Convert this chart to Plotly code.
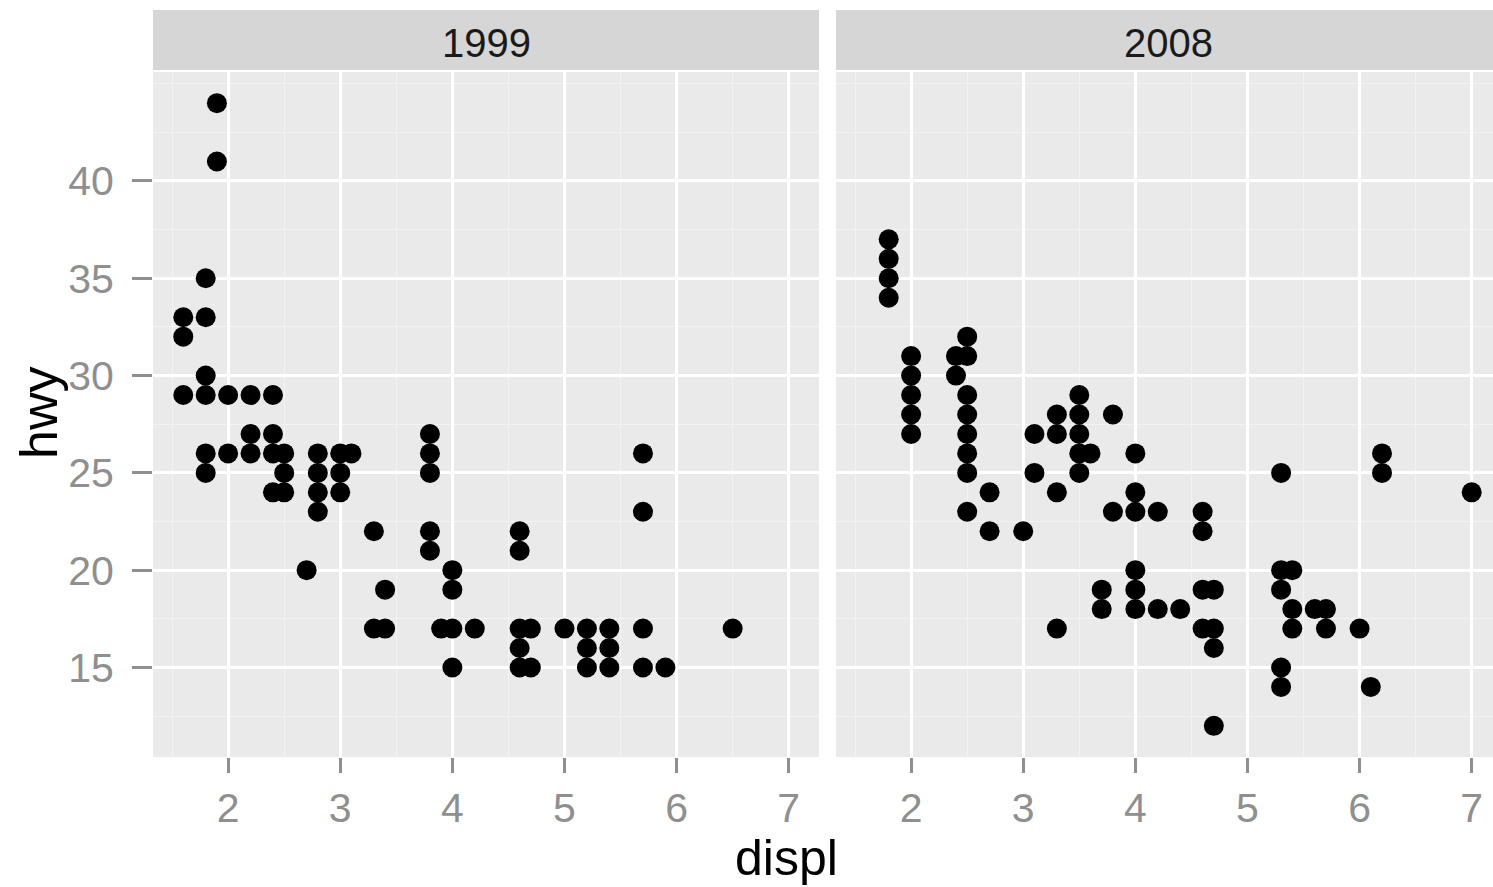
import plotly.graph_objects as go

# ---- data ----
displ_1999 = [1.6, 1.6, 1.6,
              1.8, 1.8, 1.8, 1.8, 1.8, 1.8,
              1.9, 1.9,
              2.0, 2.0,
              2.2, 2.2, 2.2,
              2.4, 2.4, 2.4, 2.4,
              2.5, 2.5, 2.5,
              2.7,
              2.8, 2.8, 2.8, 2.8,
              3.0, 3.0, 3.0,
              3.1,
              3.3, 3.3,
              3.4, 3.4,
              3.8, 3.8, 3.8, 3.8, 3.8,
              3.9,
              4.0, 4.0, 4.0, 4.0,
              4.2,
              4.6, 4.6, 4.6, 4.6, 4.6,
              4.7, 4.7,
              5.0,
              5.2, 5.2, 5.2,
              5.4, 5.4, 5.4,
              5.7, 5.7, 5.7, 5.7,
              5.9,
              6.5]
hwy_1999 = [33, 32, 29,
            35, 33, 30, 29, 26, 25,
            44, 41,
            29, 26,
            29, 27, 26,
            29, 27, 26, 24,
            26, 25, 24,
            20,
            26, 25, 24, 23,
            26, 25, 24,
            26,
            22, 17,
            19, 17,
            27, 26, 25, 22, 21,
            17,
            20, 19, 17, 15,
            17,
            22, 21, 17, 16, 15,
            17, 15,
            17,
            17, 16, 15,
            17, 16, 15,
            26, 23, 17, 15,
            15,
            17]

displ_2008 = [1.8, 1.8, 1.8, 1.8,
              2.0, 2.0, 2.0, 2.0, 2.0,
              2.4, 2.4,
              2.5, 2.5, 2.5, 2.5, 2.5, 2.5, 2.5, 2.5,
              2.7, 2.7,
              3.0,
              3.1, 3.1,
              3.3, 3.3, 3.3, 3.3,
              3.5, 3.5, 3.5, 3.5, 3.5,
              3.6,
              3.7, 3.7,
              3.8, 3.8,
              4.0, 4.0, 4.0, 4.0, 4.0, 4.0,
              4.2, 4.2,
              4.4,
              4.6, 4.6, 4.6, 4.6,
              4.7, 4.7, 4.7, 4.7,
              5.3, 5.3, 5.3, 5.3, 5.3,
              5.4, 5.4, 5.4,
              5.6,
              5.7, 5.7,
              6.0,
              6.1,
              6.2, 6.2,
              7.0]
hwy_2008 = [37, 36, 35, 34,
            31, 30, 29, 28, 27,
            31, 30,
            32, 31, 29, 28, 27, 26, 25, 23,
            24, 22,
            22,
            27, 25,
            28, 27, 24, 17,
            29, 28, 27, 26, 25,
            26,
            19, 18,
            28, 23,
            26, 24, 23, 20, 19, 18,
            23, 18,
            18,
            23, 22, 19, 17,
            19, 17, 16, 12,
            25, 20, 19, 15, 14,
            20, 18, 17,
            18,
            18, 17,
            17,
            14,
            26, 25,
            24]

years = ["1999", "2008"]
x_ticks = [2, 3, 4, 5, 6, 7]
y_ticks = [15, 20, 25, 30, 35, 40]
x_minor = [1.5, 2.5, 3.5, 4.5, 5.5, 6.5]
y_minor = [12.5, 17.5, 22.5, 27.5, 32.5, 37.5, 42.5, 45]

W, H = 1493, 887
ML, MR, MT, MB = 153, 0, 72, 130
plot_w = W - ML - MR
plot_h = H - MT - MB
d1 = [0, (819 - ML) / plot_w]
d2 = [(836 - ML) / plot_w, 1]

FONT = "Liberation Sans, Arial, sans-serif"

fig = go.Figure()
marker = dict(color="black", size=20, line=dict(width=0))
fig.add_trace(go.Scatter(x=displ_1999, y=hwy_1999, mode="markers", marker=marker,
                         xaxis="x", yaxis="y", showlegend=False))
fig.add_trace(go.Scatter(x=displ_2008, y=hwy_2008, mode="markers", marker=marker,
                         xaxis="x2", yaxis="y2", showlegend=False))

tickfont = dict(family=FONT, size=41, color="#8F8F8F")
common_x = dict(tickvals=x_ticks, showgrid=True, gridcolor="white", gridwidth=2.5,
                zeroline=False, ticks="outside", ticklen=15, tickwidth=2.5, tickcolor="#8F8F8F",
                tickfont=tickfont, showline=False, ticklabelstandoff=0,
                minor=dict(tickvals=x_minor, showgrid=True, gridcolor="#F3F3F3", gridwidth=1, ticks=""))
common_y = dict(range=[10.4, 45.6], tickvals=y_ticks, showgrid=True, gridcolor="white",
                gridwidth=2.5, zeroline=False, showline=False,
                minor=dict(tickvals=y_minor, showgrid=True, gridcolor="#F3F3F3", gridwidth=1, ticks=""))

fig.update_layout(
    width=W, height=H,
    margin=dict(l=ML, r=MR, t=MT, b=MB),
    paper_bgcolor="white", plot_bgcolor="#EAEAEA",
    xaxis=dict(domain=d1, range=[1.33, 7.27], anchor="y", **common_x),
    xaxis2=dict(domain=d2, range=[1.33, 7.19], anchor="y2", **common_x),
    yaxis=dict(domain=[0, 1], anchor="x", ticks="outside", ticklen=20, tickwidth=2.5,
               tickcolor="#8F8F8F", tickfont=tickfont, ticklabelstandoff=10, **common_y),
    yaxis2=dict(domain=[0, 1], anchor="x2", showticklabels=False, ticks="", matches="y", **common_y),
)

# facet strips
strip_top = 1 + (MT - 10) / plot_h
for dom, lab, cx in [(d1, years[0], (d1[0] + d1[1]) / 2), (d2, years[1], (1168 - ML) / plot_w)]:
    fig.add_shape(type="rect", xref="paper", yref="paper", x0=dom[0], x1=dom[1],
                  y0=1 + 2 / plot_h, y1=strip_top, fillcolor="#D6D6D6", line=dict(width=0), layer="below")
    fig.add_annotation(text=lab, xref="paper", yref="paper", x=cx, y=1 + (MT - 43) / plot_h,
                       showarrow=False, xanchor="center", yanchor="middle",
                       font=dict(family=FONT, size=40, color="#1A1A1A"))

# axis titles
fig.add_annotation(text="displ", xref="paper", yref="paper", x=(786 - ML) / plot_w,
                   y=-(858 - (MT + plot_h)) / plot_h, showarrow=False, xanchor="center", yanchor="middle",
                   font=dict(family=FONT, size=50, color="black"))
fig.add_annotation(text="hwy", xref="paper", yref="paper", x=-(ML - 39) / plot_w,
                   y=1 - (413 - MT) / plot_h, showarrow=False, xanchor="center", yanchor="middle",
                   textangle=-90,
                   font=dict(family=FONT, size=52, color="black"))

fig.write_html("out.html")
